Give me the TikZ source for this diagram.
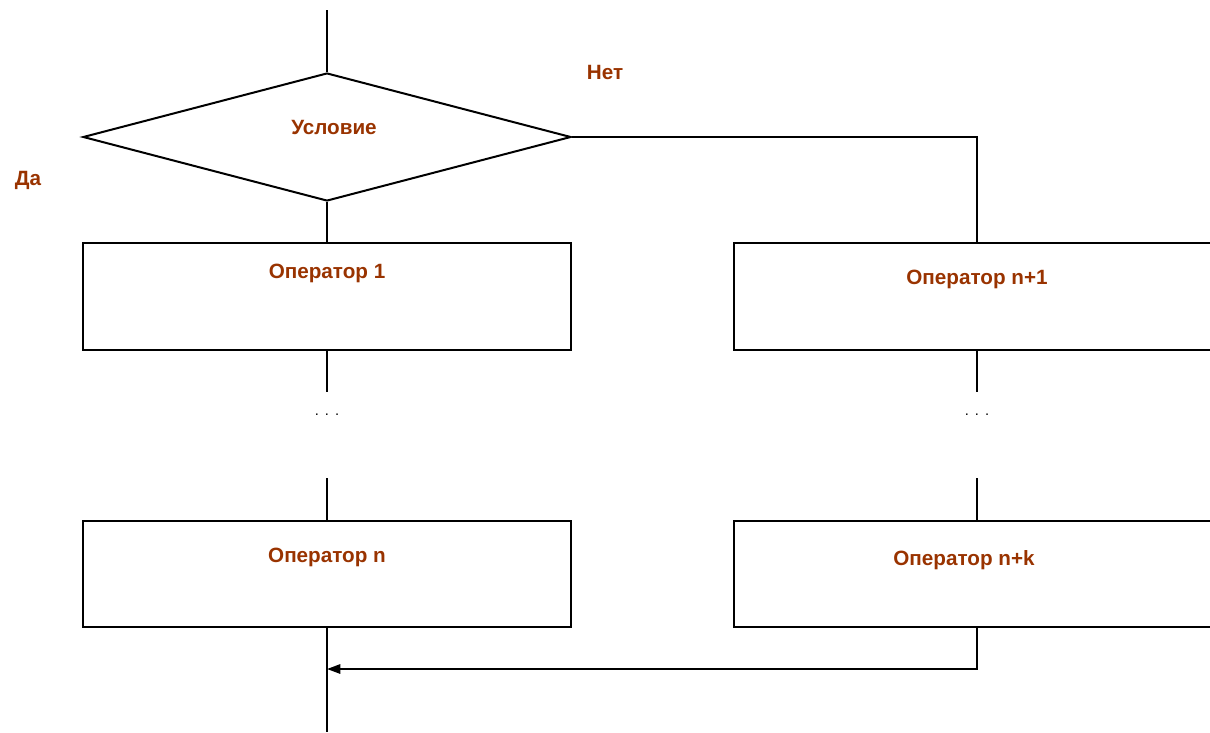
\documentclass[tikz,border=0pt]{standalone}
\usepackage{fontspec}
\setmainfont{Liberation Sans}
\usetikzlibrary{shapes.geometric,arrows.meta}
\definecolor{lblbrown}{RGB}{153,51,0}
\tikzset{
  lbl/.style={font=\fontsize{15.5}{18}\selectfont\bfseries, text=lblbrown, inner sep=0pt},
  opbox/.style={draw, line width=1.5pt, minimum width=366pt, minimum height=80pt, inner sep=0pt},
  cond/.style={draw, diamond, line width=1.5pt, aspect=3.8125, minimum width=366pt, minimum height=96pt, inner sep=0pt},
  dots/.style={font=\fontsize{11}{12}\selectfont, inner sep=0pt}
}
\begin{document}
\begin{tikzpicture}[x=0.75pt, y=-0.75pt, line width=1.5pt]
  \useasboundingbox (0,0) rectangle (1210,732);
  \clip (0,0) rectangle (1210,732);
  \draw
    (327,137) node[cond] (c){}
    (327,296.5) node[opbox] (op1){}
    (977.5,296.5) node[opbox] (opn1){}
    (327,574) node[opbox] (opn){}
    (977.5,574) node[opbox] (opnk){};
  \node[lbl] (tc) at (334,127) {Условие};
  \node[lbl] (t1) at (327,273) {Оператор 1};
  \node[lbl] (tn1) at (977,279) {Оператор n+1};
  \node[lbl] (tn) at (327,557) {Оператор n};
  \node[lbl] (tnk) at (964,560) {Оператор n+k};
  \node[lbl] (yes) at (28,180) {Да};
  \node[lbl] (no) at (605,72) {Нет};
  \node[dots] (d1) at (327,415) {.\hspace{4.5pt}.\hspace{4.5pt}.};
  \node[dots] (d2) at (977,415) {.\hspace{4.5pt}.\hspace{4.5pt}.};
  \coordinate (in) at (327,10);
  \coordinate (out) at (327,732);
  \coordinate (r) at (977,137);
  \coordinate (j) at (977,669);
  \coordinate (a1) at (327,392);
  \coordinate (b1) at (327,478);
  \coordinate (a2) at (977,392);
  \coordinate (b2) at (977,478);
  \begin{scope}[-]
    \draw (in) to (c.north);
    \draw (c.south) to (op1.north);
    \draw (c.east) -- (r) -- (opn1.north -| r);
    \draw (op1.south) to (a1);
    \draw (b1) to (opn.north);
    \draw (opn1.south -| r) to (a2);
    \draw (b2) to (opnk.north -| r);
    \draw (opn.south) to (out);
    \draw[-{Triangle[length=10pt,width=7pt]}] (opnk.south -| j) -- (j) -- (j -| out);
  \end{scope}
\end{tikzpicture}
\end{document}
